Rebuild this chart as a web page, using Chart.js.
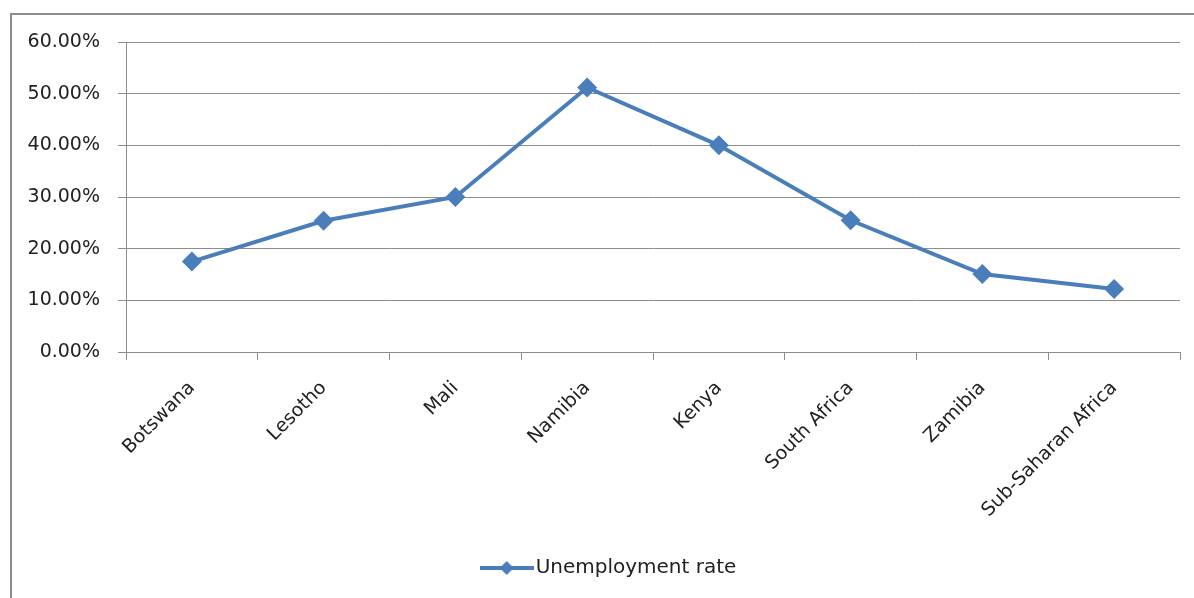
<!DOCTYPE html>
<html lang="en">
<head>
    <meta charset="UTF-8">
    <title>Unemployment rate</title>
    <script src="https://cdn.jsdelivr.net/npm/chart.js"></script>
    <style>
        body { margin: 0; background: #fff; overflow: hidden; }
        .wrap { position: relative; width: 1194px; height: 598px; overflow: hidden; }
        /* outer chart frame, cut off at right and bottom like the source */
        .frame { position: absolute; left: 10px; top: 13px; width: 1300px; height: 700px; border: 2px solid #8c8c8c; }
        canvas { position: absolute; left: 0; top: 0; }
    </style>
</head>
<body>

<div class="wrap">
    <div class="frame"></div>
    <canvas id="rateChart" width="1194" height="598"></canvas>
</div>

<script>
    // Chart data
    const countries = ['Botswana', 'Lesotho', 'Mali', 'Namibia', 'Kenya', 'South Africa', 'Zamibia', 'Sub-Saharan Africa'];
    const unemployment = [0.175, 0.254, 0.300, 0.512, 0.400, 0.255, 0.151, 0.122];
    const yMin = 0;
    const yMax = 0.6;
    const yStep = 0.1;

    const blue = '#4a7ebb';
    const gridGray = '#8c8c8c';
    const textColor = '#222222';
    const font = { family: 'DejaVu Sans', size: 19 };

    // Legend symbol: line with a diamond in the middle
    const legendIcon = document.createElement('canvas');
    legendIcon.width = 54;
    legendIcon.height = 16;
    const ic = legendIcon.getContext('2d');
    ic.strokeStyle = blue;
    ic.lineWidth = 4;
    ic.beginPath();
    ic.moveTo(0, 8);
    ic.lineTo(54, 8);
    ic.stroke();
    ic.fillStyle = blue;
    ic.beginPath();
    ic.moveTo(20, 8);
    ic.lineTo(27, 1);
    ic.lineTo(34, 8);
    ic.lineTo(27, 15);
    ic.closePath();
    ic.fill();

    // legend in the source sits a bit right of the canvas centre
    const legendShift = {
        id: 'legendShift',
        afterLayout(chart) {
            if (chart.legend) {
                chart.legend.left += 44;
            }
        }
    };

    const ctx = document.getElementById('rateChart').getContext('2d');
    const rateChart = new Chart(ctx, {
        type: 'line',
        data: {
            labels: countries,
            datasets: [{
                label: 'Unemployment rate',
                data: unemployment,
                borderColor: blue,
                backgroundColor: blue,
                borderWidth: 4,
                pointStyle: 'rectRot',
                pointRadius: 10,
                pointBorderWidth: 0,
                pointBackgroundColor: blue,
                tension: 0
            }]
        },
        options: {
            responsive: false,
            animation: false,
            layout: {
                padding: { left: 0, right: 14, top: 42, bottom: 10 }
            },
            scales: {
                x: {
                    offset: true,
                    grid: {
                        offset: true,
                        drawOnChartArea: false,
                        drawTicks: true,
                        tickLength: 8,
                        color: gridGray
                    },
                    border: { color: gridGray, width: 1 },
                    ticks: {
                        color: textColor,
                        font: font,
                        minRotation: 45,
                        maxRotation: 45,
                        padding: 17,
                        autoSkip: false
                    },
                    afterFit: function (scale) {
                        scale.height = 196;
                    }
                },
                y: {
                    min: yMin,
                    max: yMax,
                    grid: {
                        color: gridGray,
                        tickLength: 8
                    },
                    border: { color: gridGray, width: 1 },
                    ticks: {
                        stepSize: yStep,
                        color: textColor,
                        font: font,
                        padding: 18,
                        callback: function (v) {
                            return (v * 100).toFixed(2) + '%';
                        }
                    },
                    afterFit: function (scale) {
                        scale.width = 126;
                    }
                }
            },
            plugins: {
                legend: {
                    position: 'bottom',
                    labels: {
                        color: textColor,
                        font: { family: 'DejaVu Sans', size: 20 },
                        usePointStyle: true,
                        pointStyle: legendIcon,
                        pointStyleWidth: 38,
                        padding: 10
                    }
                },
                tooltip: { enabled: false }
            }
        },
        plugins: [legendShift]
    });
</script>

</body>
</html>
